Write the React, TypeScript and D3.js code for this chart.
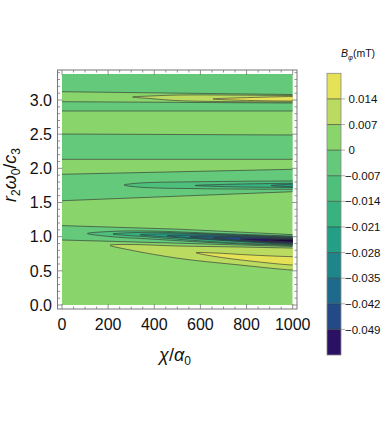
import React from "react";
import * as d3 from "d3";

// ---------- data ----------
const xTicks = [0, 200, 400, 600, 800, 1000];
const yTicks = [0, 0.5, 1, 1.5, 2, 2.5, 3];
const yMax = 3.38;

// contour levels (mT) and colour of each band (below first level ... above last)
const colorLevels = [-0.056, -0.049, -0.042, -0.035, -0.028, -0.021, -0.014, -0.007, 0, 0.007, 0.014];
const levelColors = [
  "#150a3a", "#2a1163", "#224a87", "#1e6a8c", "#1e868b", "#239f86",
  "#37b37f", "#4fc07c", "#64c97a", "#8ad46c", "#badb60", "#e6e257",
];
const colorbarTicks = [0.014, 0.007, 0, -0.007, -0.014, -0.021, -0.028, -0.035, -0.042, -0.049];
const colorbarEdges = [-0.056, 0.021];

// field value of the background (0 .. 0.007 band)
const backgroundValue = 0.003;

// contour lines crossing the whole plot: [x, y] points
const lineL1 = [[0, 3.121], [1000, 3.08]];
const lineL2 = [[0, 2.975], [1000, 2.956]];
const lineL3 = [[0, 2.839], [1000, 2.839]];
const lineL4 = [[0, 2.502], [1000, 2.488]];
const lineL5 = [[0, 2.132], [1000, 2.132]];
const lineL6 = [[0, 1.913], [1000, 1.986]];
const lineL7 = [[0, 1.526], [1000, 1.658]];
const lineL8 = [[0, 1.162], [500, 1.11], [1000, 1.03]];
const lineL9 = [[0, 0.951], [500, 0.905], [1000, 0.856]];
const plotTop = [[0, yMax], [1000, yMax]];

const contourLines = [lineL1, lineL2, lineL3, lineL4, lineL5, lineL6, lineL7, lineL8, lineL9];

// stripes (between two boundaries) lying in the -0.007..0 band
const stripeUppers = [plotTop, lineL2, lineL4, lineL6, lineL8];
const stripeLowers = [lineL1, lineL3, lineL5, lineL7, lineL9];
const stripeValues = [-0.003, -0.003, -0.003, -0.003, -0.003];

// tongue-shaped closed contours: tip [x, y] and body [x, yTop, yBottom]
const tongueValues = [
  0.01, 0.017,
  -0.01, -0.017, -0.024,
  -0.01, -0.017, -0.024, -0.031, -0.038, -0.045, -0.052, -0.06,
  0.01, 0.017,
];
const tongueTips = [
  [306, 3.044], [655, 3.015],
  [269, 1.756], [577, 1.749], [906, 1.749],
  [110, 1.046], [221, 1.039], [338, 1.029], [455, 1.013], [555, 0.998], [655, 0.983], [772, 0.966], [889, 0.951],
  [208, 0.874], [581, 0.765],
];
const tongueBodies = [
  [[381, 3.058, 3.022], [511, 3.073, 2.99], [1000, 3.066, 2.97]],
  [[815, 3.036, 2.993], [1000, 3.051, 2.985]],
  [[338, 1.785, 1.724], [598, 1.804, 1.702], [1000, 1.815, 1.693]],
  [[728, 1.767, 1.73], [1000, 1.781, 1.72]],
  [[1000, 1.768, 1.73]],
  [[208, 1.076, 1.002], [381, 1.083, 0.966], [685, 1.046, 0.907], [1000, 1.01, 0.871]],
  [[381, 1.064, 0.995], [685, 1.035, 0.919], [1000, 1.002, 0.878]],
  [[511, 1.042, 0.983], [772, 1.02, 0.929], [1000, 0.995, 0.885]],
  [[641, 1.022, 0.963], [1000, 0.988, 0.893]],
  [[772, 1.002, 0.944], [1000, 0.98, 0.9]],
  [[815, 0.988, 0.937], [1000, 0.973, 0.907]],
  [[880, 0.971, 0.932], [1000, 0.966, 0.915]],
  [[1000, 0.959, 0.922]],
  [[295, 0.885, 0.805], [511, 0.863, 0.68], [772, 0.849, 0.585], [1000, 0.834, 0.512]],
  [[663, 0.761, 0.71], [815, 0.732, 0.644], [1000, 0.707, 0.585]],
];

// ---------- layout ----------
const W = 386;
const H = 437;
const FONT = "Liberation Sans, Arial, Helvetica, sans-serif";

export default function App() {
  const x = d3.scaleLinear().domain([0, 1000]).range([62, 292.7]);
  const y = d3.scaleLinear().domain([0, 3]).range([305, 100]);
  const color = d3.scaleThreshold<number, string>().domain(colorLevels).range(levelColors);
  const cb = d3.scaleLinear().domain(colorbarEdges).range([355, 73.3]);

  const frame = { l: 57.5, r: 297, t: 70, b: 309 };

  const lineGen = d3.line<number[]>().x((d) => x(d[0])).y((d) => y(d[1]));
  const tongueGen = d3
    .line<number[]>()
    .x((d) => x(d[0]))
    .y((d) => y(d[1]))
    .curve(d3.curveCatmullRomClosed.alpha(0.5));

  const stripePath = (up: number[][], lo: number[][]) =>
    (lineGen([...up, ...lo.slice().reverse()]) || "") + "Z";

  const tonguePath = (i: number) => {
    const tip = tongueTips[i];
    const body = tongueBodies[i];
    const last = body[body.length - 1];
    const pts = [
      tip,
      ...body.map((b) => [b[0], b[1]]),
      [1080, last[1]],
      [1080, last[2]],
      ...body.slice().reverse().map((b) => [b[0], b[2]]),
    ];
    return tongueGen(pts) || "";
  };

  const minorY = d3.range(0, 3.45, 0.1);
  const minorX = d3.range(0, 1001, 50);
  const stroke = "#333";

  // colorbar bands
  const cbEdges = [colorbarEdges[0], ...colorLevels.slice(1), colorbarEdges[1]];

  return (
    <svg
      width={W}
      height={H}
      style={{ position: "absolute", left: 0, top: 0, display: "block", background: "#fff" }}
      fontFamily={FONT}
    >
      <defs>
        <clipPath id="plotClip">
          <rect x={x(0)} y={y(yMax)} width={x(1000) - x(0)} height={y(0) - y(yMax)} />
        </clipPath>
      </defs>

      <g clipPath="url(#plotClip)">
        <rect
          x={x(0)}
          y={y(yMax)}
          width={x(1000) - x(0)}
          height={y(0) - y(yMax)}
          fill={color(backgroundValue)}
        />
        {stripeUppers.map((up, i) => (
          <path key={"s" + i} d={stripePath(up, stripeLowers[i])} fill={color(stripeValues[i])} />
        ))}
        {contourLines.map((l, i) => (
          <path key={"l" + i} d={lineGen(l) || ""} fill="none" stroke={stroke} strokeOpacity={0.7} strokeWidth={0.9} />
        ))}
        {tongueTips.map((_, i) => (
          <path
            key={"t" + i}
            d={tonguePath(i)}
            fill={color(tongueValues[i])}
            stroke={stroke}
            strokeOpacity={0.7}
            strokeWidth={0.9}
          />
        ))}
      </g>

      {/* frame */}
      <rect x={frame.l} y={frame.t} width={frame.r - frame.l} height={frame.b - frame.t} fill="none" stroke="#777" strokeWidth={1} />
      {minorY.map((v, i) => {
        const major = Math.abs(v * 2 - Math.round(v * 2)) < 1e-6;
        const len = major ? 5 : 2.5;
        const py = y(v);
        return (
          <g key={"yt" + i} stroke="#777" strokeWidth={0.8}>
            <line x1={frame.l} x2={frame.l + len} y1={py} y2={py} />
            <line x1={frame.r} x2={frame.r - len} y1={py} y2={py} />
          </g>
        );
      })}
      {minorX.map((v, i) => {
        const major = v % 200 === 0;
        const len = major ? 5 : 2.5;
        const px = x(v);
        return (
          <g key={"xt" + i} stroke="#777" strokeWidth={0.8}>
            <line x1={px} x2={px} y1={frame.b} y2={frame.b - len} />
            <line x1={px} x2={px} y1={frame.t} y2={frame.t + len} />
          </g>
        );
      })}

      {/* tick labels */}
      {yTicks.map((v) => (
        <text key={"yl" + v} x={52} y={y(v)} dy="0.36em" textAnchor="end" fontSize={16} fill="#111">
          {v.toFixed(1)}
        </text>
      ))}
      {xTicks.map((v) => (
        <text key={"xl" + v} x={x(v)} y={330} textAnchor="middle" fontSize={16} fill="#111">
          {v}
        </text>
      ))}

      {/* axis titles */}
      <text x={175} y={361} textAnchor="middle" fontSize={18} fill="#111">
        <tspan fontStyle="italic">χ</tspan>
        <tspan>/</tspan>
        <tspan fontStyle="italic">α</tspan>
        <tspan fontSize={12} dy={4}>0</tspan>
      </text>
      <text transform="translate(16,175) rotate(-90)" textAnchor="middle" fontSize={18} fill="#111">
        <tspan fontStyle="italic">r</tspan>
        <tspan fontSize={12} dy={4}>2</tspan>
        <tspan fontStyle="italic" dy={-4}>ω</tspan>
        <tspan fontSize={12} dy={4}>0</tspan>
        <tspan dy={-4}>/</tspan>
        <tspan fontStyle="italic">c</tspan>
        <tspan fontSize={12} dy={4}>3</tspan>
      </text>

      {/* colorbar */}
      <g>
        {cbEdges.slice(0, -1).map((lo, i) => {
          const hi = cbEdges[i + 1];
          return (
            <rect
              key={"cb" + i}
              x={327}
              y={cb(hi)}
              width={14}
              height={cb(lo) - cb(hi)}
              fill={levelColors[i + 1]}
            />
          );
        })}
        {colorbarTicks.map((v) => (
          <g key={"cbt" + v}>
            <line x1={327} x2={341} y1={cb(v)} y2={cb(v)} stroke={stroke} strokeOpacity={0.7} strokeWidth={0.9} />
            <line x1={341} x2={345} y1={cb(v)} y2={cb(v)} stroke="#999" strokeWidth={0.8} />
            <text x={v < 0 ? 345 : 348.5} y={cb(v)} dy="0.36em" fontSize={11.5} fill="#111">
              {v < 0 ? "−" + Math.abs(v).toString() : v.toString()}
            </text>
          </g>
        ))}
        <rect
          x={327}
          y={cb(colorbarEdges[1])}
          width={14}
          height={cb(colorbarEdges[0]) - cb(colorbarEdges[1])}
          fill="none"
          stroke="#888"
          strokeWidth={0.8}
        />
        <text x={341} y={57} fontSize={10.5} fill="#111">
          <tspan fontStyle="italic">B</tspan>
          <tspan fontStyle="italic" fontSize={7.5} dy={2.5}>φ</tspan>
          <tspan dy={-2.5}>(mT)</tspan>
        </text>
      </g>
    </svg>
  );
}
